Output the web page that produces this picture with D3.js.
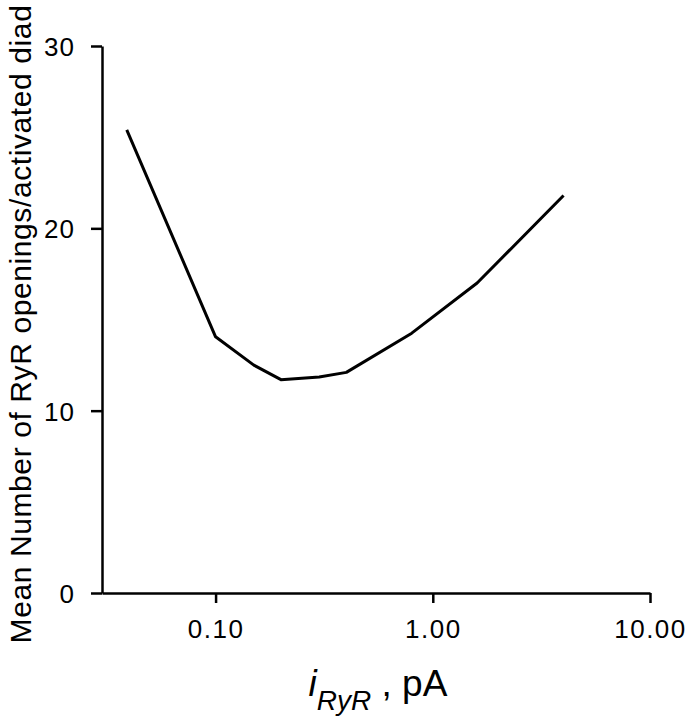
<!DOCTYPE html>
<html>
<head>
<meta charset="utf-8">
<script src="https://cdn.jsdelivr.net/npm/d3@7/dist/d3.min.js"></script>
<style>
  html, body { margin: 0; padding: 0; background: #fff; }
  svg { display: block; }
  text { font-family: "Liberation Sans", Arial, Helvetica, sans-serif; fill: #000; }
</style>
</head>
<body>
<svg id="chart" width="688" height="720"></svg>
<script>
// Data
const currents = [0.039, 0.10, 0.15, 0.20, 0.30, 0.40, 0.80, 1.60, 4.00];
const openings = [25.4, 14.05, 12.5, 11.7, 11.85, 12.1, 14.25, 17.0, 21.8];
const xTicks = [0.1, 1, 10];
const xTickLabels = ["0.10", "1.00", "10.00"];
const yTicks = [0, 10, 20, 30];
const yTickLabels = ["0", "10", "20", "30"];

const svg = d3.select("#chart");
const x = d3.scaleLog().domain([0.03, 10]).range([102, 650]);
const y = d3.scaleLinear().domain([0, 30]).range([593, 46]);

// Y axis
const yAxis = svg.append("g")
  .attr("transform", "translate(102,0)")
  .call(d3.axisLeft(y).tickValues(yTicks).tickFormat((d, i) => yTickLabels[i])
        .tickSize(11).tickSizeOuter(0).tickPadding(16));
yAxis.select(".domain").attr("stroke", "#000").attr("stroke-width", 2.5);
yAxis.selectAll(".tick line").attr("stroke", "#000").attr("stroke-width", 2.5);
yAxis.selectAll(".tick text").style("font-size", "26px").style("letter-spacing", "1px").attr("dy", "0.36em");

// X axis
const xAxis = svg.append("g")
  .attr("transform", "translate(0,593)")
  .call(d3.axisBottom(x).tickValues(xTicks).tickFormat((d, i) => xTickLabels[i])
        .tickSize(10).tickSizeOuter(0).tickPadding(17));
xAxis.select(".domain").attr("stroke", "#000").attr("stroke-width", 2.5);
xAxis.selectAll(".tick line").attr("stroke", "#000").attr("stroke-width", 2.5);
xAxis.selectAll(".tick text").style("font-size", "26px").style("letter-spacing", "1.5px");

// Line
const data = currents.map((c, i) => ({ c, v: openings[i] }));
svg.append("path")
  .datum(data)
  .attr("fill", "none")
  .attr("stroke", "#000")
  .attr("stroke-width", 3)
  .attr("stroke-linejoin", "round")
  .attr("d", d3.line().x(d => x(d.c)).y(d => y(d.v)));

// Y label
svg.append("text")
  .attr("transform", "translate(31,324) rotate(-90)")
  .attr("text-anchor", "middle")
  .style("font-size", "30px")
  .style("letter-spacing", "0.6px")
  .text("Mean Number of RyR openings/activated diad");

// X label
const xl = svg.append("text")
  .attr("x", 378)
  .attr("y", 696)
  .attr("text-anchor", "middle")
  .style("font-size", "37px");
xl.append("tspan").style("font-style", "italic").text("i");
xl.append("tspan").style("font-style", "italic").style("font-size", "28px").attr("dy", 14).text("RyR");
xl.append("tspan").attr("dy", -14).text("\u00a0, pA");
</script>
</body>
</html>
